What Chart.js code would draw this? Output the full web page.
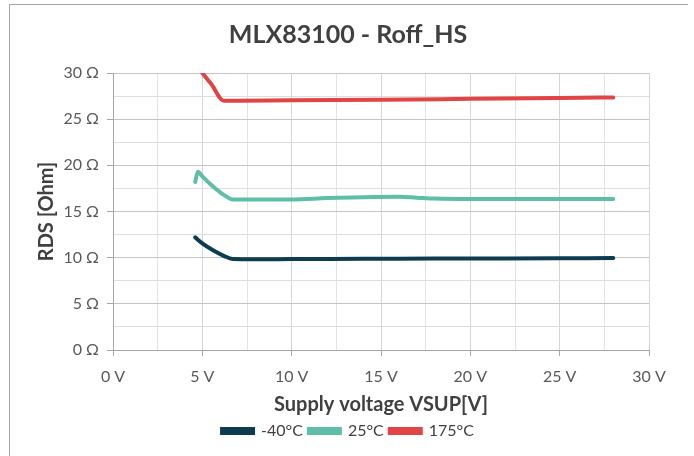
<!DOCTYPE html>
<html>
<head>
<meta charset="utf-8">
<script src="https://cdn.jsdelivr.net/npm/chart.js@4.4.1/dist/chart.umd.min.js"></script>
<style>
  html, body { margin: 0; padding: 0; background: #ffffff; }
  #wrap { position: relative; width: 694px; height: 456px; }
  #frame { position: absolute; left: 9px; top: 4px; width: 678px; height: 460px;
           border-top: 1px solid #a6a6a6; border-left: 1px solid #a6a6a6; pointer-events: none; }
  canvas { position: absolute; left: 0; top: 0; }
</style>
</head>
<body>
<div id="wrap">
  <canvas id="c" width="694" height="456"></canvas>
  <div id="frame"></div>
</div>
<script>
// ---- data ----
const chartTitle = 'MLX83100 - Roff_HS';
const xAxisTitle = 'Supply voltage VSUP[V]';
const yAxisTitle = 'RDS [Ohm]';
const seriesNames = ['-40°C', '25°C', '175°C'];
const seriesColors = ['#0d3b50', '#5fbea7', '#e04444'];

const vsupCold = [4.6, 5.0, 5.6, 6.2, 6.7, 8, 10, 14, 18, 22, 25, 28];
const rdsCold  = [12.2, 11.55, 10.8, 10.2, 9.85, 9.83, 9.85, 9.87, 9.9, 9.92, 9.94, 9.96];

const vsupRoom = [4.6, 4.75, 5.0, 5.6, 6.2, 6.7, 8, 10, 12, 14, 16, 17, 18, 20, 24, 28];
const rdsRoom  = [18.2, 19.3, 18.8, 17.7, 16.8, 16.3, 16.3, 16.3, 16.45, 16.55, 16.6, 16.5, 16.4, 16.35, 16.35, 16.35];

const vsupHot = [4.5, 5.0, 5.5, 6.2, 7, 10, 15, 20, 25, 28];
const rdsHot  = [31.2, 30.0, 28.8, 27.0, 27.0, 27.05, 27.1, 27.2, 27.3, 27.35];

const xTickValues = [0, 5, 10, 15, 20, 25, 30];
const xTickLabels = ['0 V', '5 V', '10 V', '15 V', '20 V', '25 V', '30 V'];
const yTickValues = [0, 5, 10, 15, 20, 25, 30];
const yTickLabels = ['0 Ω', '5 Ω', '10 Ω', '15 Ω', '20 Ω', '25 Ω', '30 Ω'];

// ---- build ----
const FONT = 'Lato, "Open Sans", sans-serif';
function pts(xs, ys) { return xs.map((x, i) => ({ x: x, y: ys[i] })); }
const seriesData = [pts(vsupCold, rdsCold), pts(vsupRoom, rdsRoom), pts(vsupHot, rdsHot)];

const datasets = seriesNames.map((n, i) => ({
  label: n,
  data: seriesData[i],
  borderColor: seriesColors[i],
  backgroundColor: seriesColors[i],
  borderWidth: 4,
  pointRadius: 0,
  cubicInterpolationMode: 'monotone',
  borderCapStyle: 'round',
  fill: false
}));

function isMajor(v) { return Math.abs(v / 5 - Math.round(v / 5)) < 1e-6; }
function labelFor(vals, labels, v) {
  const i = vals.findIndex(t => Math.abs(t - v) < 1e-6);
  return i >= 0 ? labels[i] : '';
}

new Chart(document.getElementById('c'), {
  type: 'line',
  data: { datasets: datasets },
  options: {
    responsive: false,
    animation: false,
    devicePixelRatio: 1,
    layout: { padding: { left: 47, right: 45, top: 0, bottom: 7 } },
    plugins: {
      title: {
        display: true,
        text: chartTitle,
        color: '#404040',
        font: { family: FONT, size: 25, weight: 'bold' },
        padding: { top: 20, bottom: 23 }
      },
      legend: {
        position: 'bottom',
        labels: {
          color: '#404040',
          font: { family: FONT, size: 16 },
          boxWidth: 31,
          boxHeight: 4,
          padding: 6
        }
      },
      tooltip: { enabled: false }
    },
    scales: {
      x: {
        type: 'linear',
        min: 0, max: 30,
        ticks: {
          stepSize: 2.5,
          autoSkip: false,
          maxRotation: 0,
          color: '#595959',
          font: { family: FONT, size: 16 },
          padding: 11,
          callback: v => labelFor(xTickValues, xTickLabels, v)
        },
        grid: {
          color: ctx => isMajor(ctx.tick.value) ? '#d6d6d6' : '#e3e3e3',
          tickColor: ctx => isMajor(ctx.tick.value) ? '#a6a6a6' : 'rgba(0,0,0,0)',
          tickLength: 6,
          lineWidth: 1
        },
        border: { color: '#a6a6a6', width: 1 },
        title: {
          display: true,
          text: xAxisTitle,
          color: '#404040',
          font: { family: FONT, size: 20, weight: 'bold' },
          padding: { top: 0, bottom: 0 }
        },
        afterFit: s => { s.height = 67; }
      },
      y: {
        type: 'linear',
        min: 0, max: 30,
        ticks: {
          stepSize: 2.5,
          autoSkip: false,
          color: '#595959',
          font: { family: FONT, size: 16 },
          padding: 8,
          callback: v => labelFor(yTickValues, yTickLabels, v)
        },
        grid: {
          color: ctx => isMajor(ctx.tick.value) ? '#c4c4c4' : '#dedede',
          tickColor: ctx => isMajor(ctx.tick.value) ? '#a6a6a6' : 'rgba(0,0,0,0)',
          tickLength: 6,
          lineWidth: 1
        },
        border: { color: '#a6a6a6', width: 1 },
        title: {
          display: true,
          text: yAxisTitle,
          color: '#404040',
          font: { family: FONT, size: 20, weight: 'bold' },
          padding: { top: -12.5, bottom: 0 }
        },
        afterFit: s => { s.width = 66; }
      }
    }
  }
});
</script>
</body>
</html>
